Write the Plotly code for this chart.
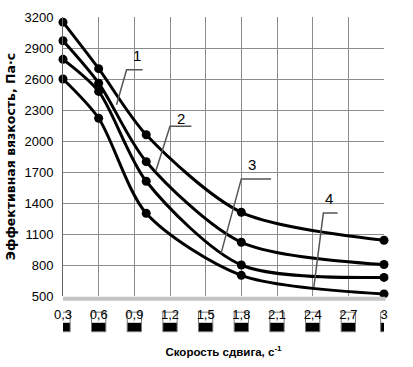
import plotly.graph_objects as go

shear_rate = [0.3, 0.6, 1.0, 1.8, 3.0]
visc_1 = [3150, 2700, 2060, 1310, 1040]
visc_2 = [2970, 2560, 1800, 1020, 805]
visc_3 = [2790, 2480, 1610, 800, 680]
visc_4 = [2600, 2220, 1300, 700, 520]
series = [visc_1, visc_2, visc_3, visc_4]

x_ticks = [0.3, 0.6, 0.9, 1.2, 1.5, 1.8, 2.1, 2.4, 2.7, 3.0]
x_tick_text = ["0,3", "0,6", "0,9", "1,2", "1,5", "1,8", "2,1", "2,4", "2,7", "3"]
y_ticks = [500, 800, 1100, 1400, 1700, 2000, 2300, 2600, 2900, 3200]

font_narrow = "Liberation Sans Narrow, Arial Narrow, Liberation Sans, sans-serif"

fig = go.Figure()
for s in series:
    fig.add_trace(go.Scatter(
        x=shear_rate, y=s, mode="lines+markers",
        line=dict(color="black", width=3, shape="spline", smoothing=0.8),
        marker=dict(color="black", size=9),
        showlegend=False, cliponaxis=False))

# curve labels with leader lines
labels = [
    ("1", 0.92, 2830, [0.97, 0.835, 0.75], [2690, 2690, 2350]),
    ("2", 1.29, 2215, [1.38, 1.20, 1.08], [2143, 2143, 1708]),
    ("3", 1.89, 1770, [2.05, 1.80, 1.63], [1633, 1633, 915]),
    ("4", 2.54, 1440, [2.61, 2.49, 2.41], [1303, 1303, 585]),
]
for txt, tx, ty, lx, ly in labels:
    fig.add_trace(go.Scatter(x=lx, y=ly, mode="lines",
                             line=dict(color="#555", width=1.5),
                             showlegend=False, hoverinfo="skip"))
    fig.add_annotation(x=tx, y=ty, text=txt, showarrow=False,
                       font=dict(family=font_narrow, size=15, color="black"))

shapes = []
# shadow under x axis
shapes.append(dict(type="line", xref="paper", yref="paper", x0=0, x1=1.005,
                   y0=-0.01, y1=-0.01, line=dict(color="#c4c4c4", width=4)))
# black blocks under tick labels
for t, lab in zip(x_ticks, x_tick_text):
    w = 0.028 if len(lab) == 1 else 0.06
    shapes.append(dict(type="rect", xref="x", yref="paper", x0=t - w, x1=t + w,
                       y0=-0.128, y1=-0.096, fillcolor="black", line=dict(width=0),
                       layer="below"))
    shapes.append(dict(type="rect", xref="x", yref="paper", x0=t - w, x1=t + w,
                       y0=-0.128, y1=-0.058, fillcolor="rgba(0,0,0,0)",
                       line=dict(color="#777", width=1), layer="below"))

fig.update_layout(
    width=413, height=367,
    margin=dict(l=62, r=29, t=10, b=71),
    paper_bgcolor="white", plot_bgcolor="white",
    shapes=shapes,
    xaxis=dict(range=[0.3, 3.0], tickvals=x_ticks, ticktext=x_tick_text,
               showgrid=True, gridcolor="#8c8c8c", gridwidth=1,
               showline=False, zeroline=False, ticks="",
               ticklabelstandoff=9,
               tickfont=dict(family=font_narrow, size=13, color="black"),
               title=dict(text="<b>Скорость сдвига, с<sup>-1</sup></b>",
                          font=dict(family=font_narrow, size=11.5, color="black"),
                          standoff=26)),
    yaxis=dict(range=[500, 3200], tickvals=y_ticks,
               showgrid=True, gridcolor="#8c8c8c", gridwidth=1,
               showline=True, linecolor="#666", linewidth=1, zeroline=False,
               ticks="", ticklabelstandoff=6,
               tickfont=dict(family=font_narrow, size=13, color="black"),
               title=dict(text="<b>Эффективная вязкость, Па·с</b>",
                          font=dict(family="DejaVu Sans, sans-serif", size=12.5, color="black"),
                          standoff=6)),
)

fig.write_html("out.html", config={"displayModeBar": False},
               post_script="document.body.style.margin='0';")
